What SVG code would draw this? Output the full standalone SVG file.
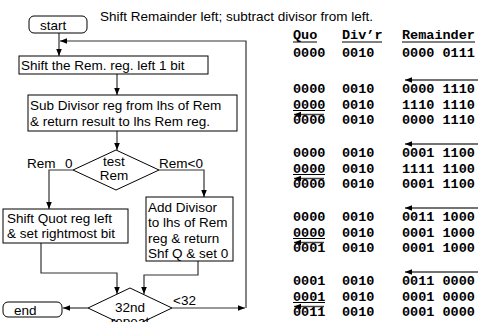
<svg xmlns="http://www.w3.org/2000/svg" width="478" height="322" viewBox="0 0 478 322">
<style>
.box{fill:#fff;stroke:#000;stroke-width:1}
.t{font-family:"Liberation Sans",Arial,sans-serif;font-size:13.5px;fill:#000}
.m{font-family:"Liberation Mono","Courier New",monospace;font-size:13.5px;font-weight:bold;fill:#000}
.c{fill:none;stroke:#333;stroke-width:1.2}
.ta{fill:none;stroke:#444;stroke-width:1.5}
.ul{stroke:#000;stroke-width:1}
</style>
<defs>
<marker id="ah" viewBox="0 0 10 10" refX="10" refY="5" markerWidth="7" markerHeight="7" markerUnits="userSpaceOnUse" orient="auto"><path d="M0,1 L10,5 L0,9 z" fill="#000"/></marker>
</defs>
<rect width="478" height="322" fill="#fff"/>
<text class="t" x="100" y="21" font-size="14">Shift Remainder left; subtract divisor from left.</text>

<g id="connectors">
<path class="c" d="M59,33 V56" marker-end="url(#ah)"/>
<path class="c" d="M117,74 V95" marker-end="url(#ah)"/>
<path class="c" d="M117,131 V150" marker-end="url(#ah)"/>
<path class="c" d="M73,170 H49 V209" marker-end="url(#ah)"/>
<path class="c" d="M159,170 H204 V197" marker-end="url(#ah)"/>
<path class="c" d="M41,243 V273 H117 V294" marker-end="url(#ah)"/>
<path class="c" d="M198,261 V275 H144 V294" marker-end="url(#ah)"/>
<path class="c" d="M88,308 H63" marker-end="url(#ah)"/>
<path class="c" d="M172,308 H245" marker-end="url(#ah)"/>
<path class="c" d="M246,308 V41 H60" marker-end="url(#ah)"/>
</g>

<g id="start"><rect class="box" x="29" y="16" width="58" height="17" rx="5"/><text class="t" x="40" y="29.5">start</text></g>
<g id="shiftRem"><rect class="box" x="19" y="56" width="189" height="18"/><text class="t" x="21" y="70">Shift the Rem. reg. left 1 bit</text></g>
<g id="subDiv"><rect class="box" x="28" y="95" width="209" height="36"/><text class="t" x="30" y="109.5">Sub Divisor reg from lhs of Rem</text><text class="t" x="30" y="125.5">&amp; return result to lhs Rem reg.</text></g>
<g id="testRem"><polygon class="box" points="116,150 159,170 116,190 73,170"/><text class="t" x="114" y="166" text-anchor="middle">test</text><text class="t" x="114" y="180" text-anchor="middle">Rem</text></g>
<g id="labels"><text class="t" y="168"><tspan x="27">Rem</tspan><tspan x="65">0</tspan></text><text class="t" x="159" y="168">Rem&lt;0</text><text class="t" x="173" y="305">&lt;32</text></g>
<g id="shiftQuot"><rect class="box" x="3" y="209" width="125" height="34"/><text class="t" x="7" y="223">Shift Quot reg left</text><text class="t" x="7" y="238">&amp; set rightmost bit</text></g>
<g id="addDiv"><rect class="box" x="146" y="197" width="87" height="64"/><text class="t" x="148" y="212">Add Divisor</text><text class="t" x="148" y="227">to lhs of Rem</text><text class="t" x="148" y="243">reg &amp; return</text><text class="t" x="148" y="258">Shf Q &amp; set 0</text></g>
<g id="repeat"><polygon class="box" points="130,288 172,308 130,328 88,308"/><text class="t" x="130" y="312" text-anchor="middle">32nd</text><text class="t" x="130" y="325.5" text-anchor="middle">repeat</text></g>
<g id="end"><rect class="box" x="3" y="302" width="59" height="15" rx="5"/><text class="t" x="14" y="314.5">end</text></g>

<g id="table">
<text class="m" x="293" y="39">Quo</text><text class="m" x="342" y="39">Div’r</text><text class="m" x="402" y="39">Remainder</text>
<line class="ul" x1="293" y1="42" x2="317" y2="42"/><line class="ul" x1="342" y1="42" x2="382" y2="42"/><line class="ul" x1="402" y1="42" x2="475" y2="42"/>
<text class="m" x="293" y="57">0000</text><text class="m" x="342" y="57">0010</text><text class="m" x="402" y="57">0000 0111</text>

<path class="ta" d="M478,80 H405" marker-end="url(#ah)"/>
<text class="m" x="293" y="93">0000</text><text class="m" x="342" y="93">0010</text><text class="m" x="402" y="93">0000 1110</text>
<text class="m" x="293" y="108.5">0000</text><text class="m" x="342" y="108.5">0010</text><text class="m" x="402" y="108.5">1110 1110</text>
<line class="ul" x1="293" y1="110.5" x2="325" y2="110.5"/>
<path class="ta" d="M324,114.5 H294" marker-end="url(#ah)"/>
<text class="m" x="293" y="124">0000</text><text class="m" x="342" y="124">0010</text><text class="m" x="402" y="124">0000 1110</text>

<path class="ta" d="M478,144 H405" marker-end="url(#ah)"/>
<text class="m" x="293" y="157">0000</text><text class="m" x="342" y="157">0010</text><text class="m" x="402" y="157">0001 1100</text>
<text class="m" x="293" y="172.5">0000</text><text class="m" x="342" y="172.5">0010</text><text class="m" x="402" y="172.5">1111 1100</text>
<line class="ul" x1="293" y1="174.5" x2="325" y2="174.5"/>
<path class="ta" d="M324,178.5 H294" marker-end="url(#ah)"/>
<text class="m" x="293" y="188">0000</text><text class="m" x="342" y="188">0010</text><text class="m" x="402" y="188">0001 1100</text>

<path class="ta" d="M478,208 H405" marker-end="url(#ah)"/>
<text class="m" x="293" y="221">0000</text><text class="m" x="342" y="221">0010</text><text class="m" x="402" y="221">0011 1000</text>
<text class="m" x="293" y="236.5">0000</text><text class="m" x="342" y="236.5">0010</text><text class="m" x="402" y="236.5">0001 1000</text>
<line class="ul" x1="293" y1="238.5" x2="325" y2="238.5"/>
<path class="ta" d="M324,242.5 H294" marker-end="url(#ah)"/>
<text class="m" x="293" y="252">0001</text><text class="m" x="342" y="252">0010</text><text class="m" x="402" y="252">0001 1000</text>

<path class="ta" d="M478,272 H405" marker-end="url(#ah)"/>
<text class="m" x="293" y="285">0001</text><text class="m" x="342" y="285">0010</text><text class="m" x="402" y="285">0011 0000</text>
<text class="m" x="293" y="300.5">0001</text><text class="m" x="342" y="300.5">0010</text><text class="m" x="402" y="300.5">0001 0000</text>
<line class="ul" x1="293" y1="302.5" x2="325" y2="302.5"/>
<path class="ta" d="M324,306.5 H294" marker-end="url(#ah)"/>
<text class="m" x="293" y="316">0011</text><text class="m" x="342" y="316">0010</text><text class="m" x="402" y="316">0001 0000</text>
</g>
</svg>
